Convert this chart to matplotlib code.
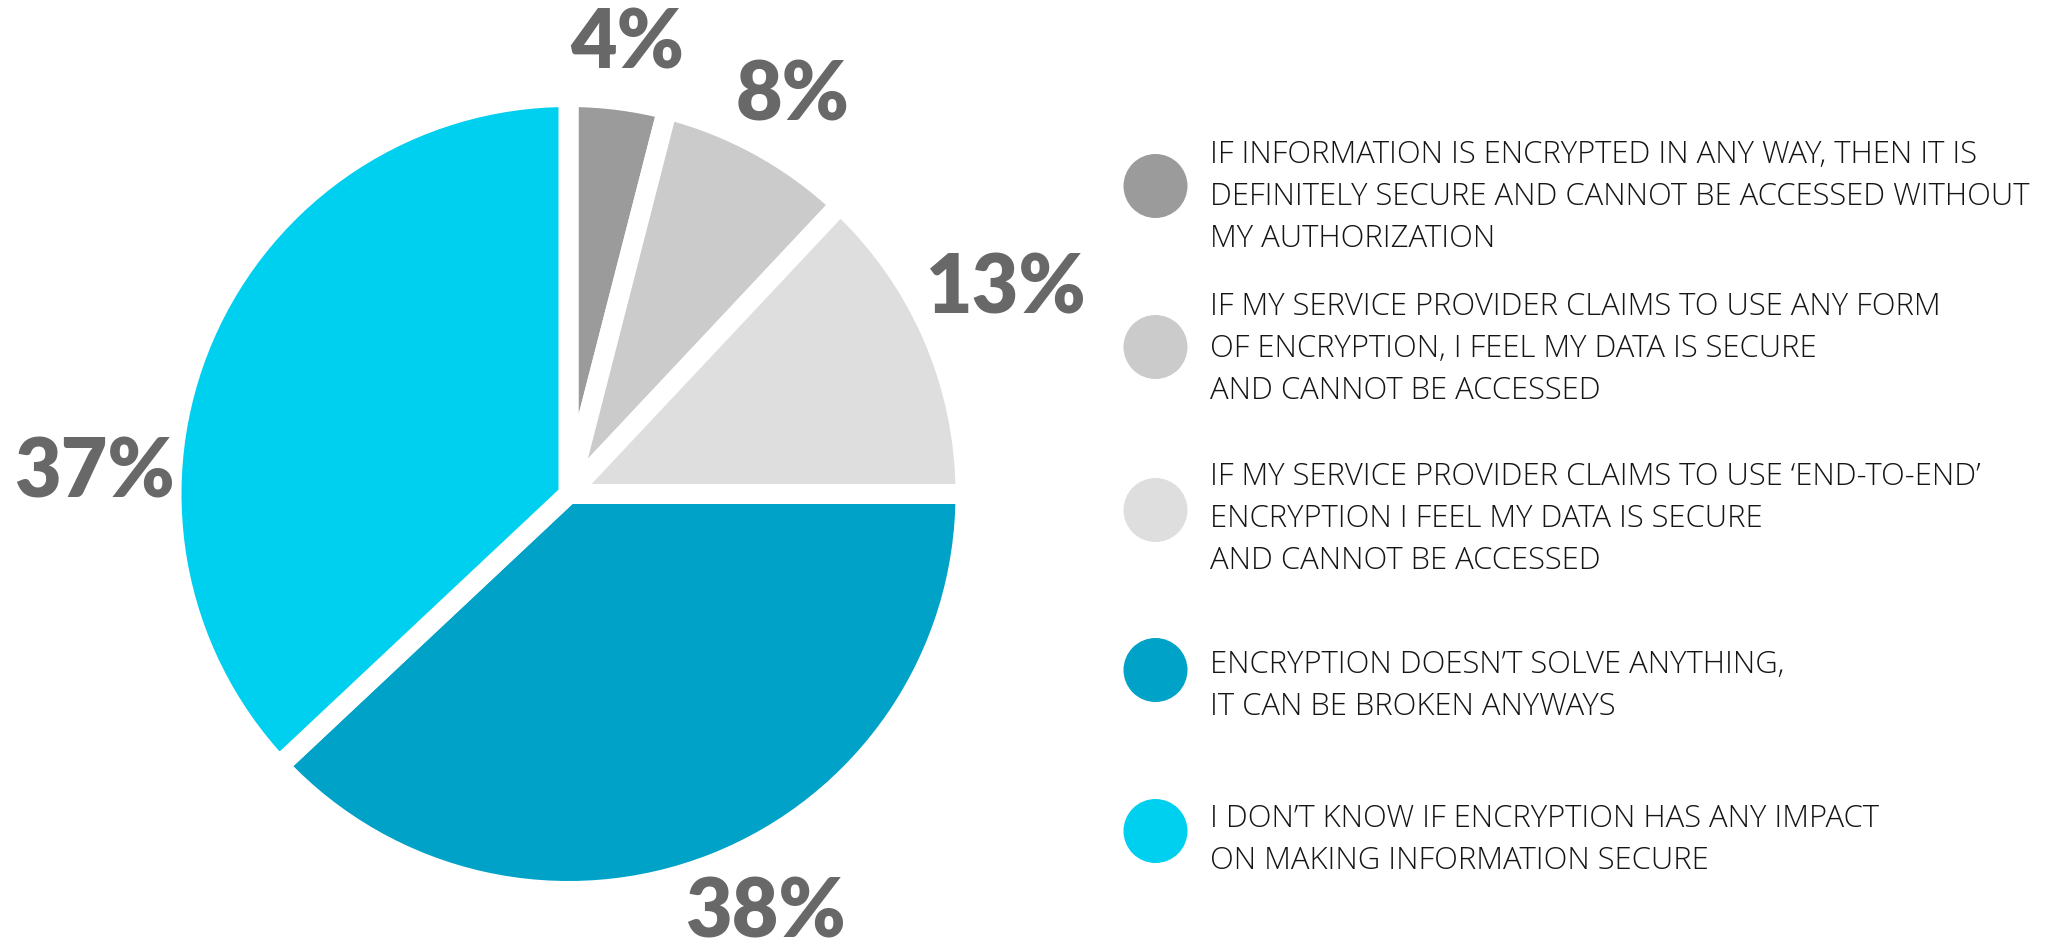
import matplotlib
matplotlib.use("Agg")
import matplotlib.pyplot as plt
from matplotlib.patches import Circle

# survey answers, clockwise from 12 o'clock
SHARES = [4, 8, 13, 38, 37]
PCT_LABELS = ["4%", "8%", "13%", "38%", "37%"]
COLORS = ["#9b9b9b", "#cbcbcb", "#dedede", "#00a2c7", "#00d0ef"]
LEGEND_LINES = [
    ["IF INFORMATION IS ENCRYPTED IN ANY WAY, THEN IT IS",
     "DEFINITELY SECURE AND CANNOT BE ACCESSED WITHOUT",
     "MY AUTHORIZATION"],
    ["IF MY SERVICE PROVIDER CLAIMS TO USE ANY FORM",
     "OF ENCRYPTION, I FEEL MY DATA IS SECURE",
     "AND CANNOT BE ACCESSED"],
    ["IF MY SERVICE PROVIDER CLAIMS TO USE \u2018END-TO-END\u2019",
     "ENCRYPTION I FEEL MY DATA IS SECURE",
     "AND CANNOT BE ACCESSED"],
    ["ENCRYPTION DOESN\u2019T SOLVE ANYTHING,",
     "IT CAN BE BROKEN ANYWAYS"],
    ["I DON\u2019T KNOW IF ENCRYPTION HAS ANY IMPACT",
     "ON MAKING INFORMATION SECURE"],
]

# layout, in pixels from the top-left corner
W, H = 2051, 949
PIE_CX, PIE_CY, PIE_R = 568.5, 494, 387
GAP = 20
LABEL_X = [627, 793, 1006, 765, 94]
LABEL_BASE = [68, 120, 313, 937, 497]
DOT_X, DOT_R = 1155.5, 32
DOT_Y = [186, 347, 510, 670, 831]
TEXT_X = 1210
FIRST_BASE = [163, 315, 485, 673, 827]
LINE_STEP = 42


def Y(y):
    return H - y


fig = plt.figure(figsize=(W / 100, H / 100), dpi=100)
ax = fig.add_axes([0, 0, 1, 1])

gap_pt = GAP * 72 / 100
ax.pie(SHARES, colors=COLORS, startangle=90, counterclock=False,
       center=(PIE_CX, Y(PIE_CY)), radius=PIE_R + GAP / 2,
       wedgeprops=dict(edgecolor="white", linewidth=gap_pt))

for lab, x, y in zip(PCT_LABELS, LABEL_X, LABEL_BASE):
    ax.text(x, Y(y), lab, ha="center", va="baseline", fontsize=58,
            fontfamily="Lato", fontweight="heavy", color="#686868")

for i, lines in enumerate(LEGEND_LINES):
    ax.add_patch(Circle((DOT_X, Y(DOT_Y[i])), DOT_R, color=COLORS[i], lw=0))
    for j, line in enumerate(lines):
        ax.text(TEXT_X, Y(FIRST_BASE[i] + LINE_STEP * j), line,
                ha="left", va="baseline", fontsize=22.3,
                fontfamily="Open Sans", fontweight="light", color="#151515")

ax.set_xlim(0, W)
ax.set_ylim(0, H)
ax.set_aspect("equal")
ax.axis("off")

fig.savefig("out.png", dpi=100, facecolor="white")
